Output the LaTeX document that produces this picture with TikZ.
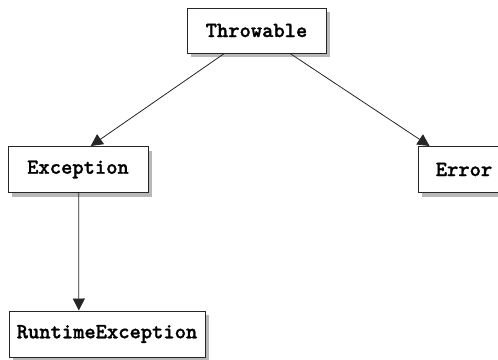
\documentclass[tikz,border=0pt]{standalone}
\usepackage{fontspec}
\newfontfamily\codefont{lmmonolt10-bold.otf}[FakeBold=1.2]
\usetikzlibrary{calc,arrows.meta,shadows}
\begin{document}
\begin{tikzpicture}[x=1pt,y=-1pt,
  cls/.style={draw=black!85, line width=1pt, fill=white,
    minimum height=46pt, inner sep=0pt,
    font=\codefont\fontsize{21.5}{21.5}\selectfont,
    drop shadow={shadow xshift=4pt, shadow yshift=-4pt, fill=black!28, opacity=1}},
  arr/.style={line width=0.8pt, draw=black!85, -{Triangle[length=12pt,width=12pt]}}
]
\clip (0,0) rectangle (498,359);
\useasboundingbox (0,0) rectangle (498,359);

% class boxes
\node[cls, minimum width=139pt, minimum height=45pt] (throwable) at (256.5,30.5) {Throwable};
\node[cls, minimum width=140pt] (exception) at (78,169.5) {Exception};
\node[cls, minimum width=92pt] (error) at (464,169.5) {Error};
\node[cls, minimum width=196pt] (rte) at (107,334) {RuntimeException};

% inheritance connectors
\draw[arr] ($(throwable.south west)!0.27!(throwable.south east)$) --
           ($(exception.north west)!0.59!(exception.north east)$);
\draw[arr] ($(throwable.south west)!0.74!(throwable.south east)$) --
           ($(error.north west)!0.13!(error.north east)$);
\draw[arr] ($(exception.south west)!0.505!(exception.south east)$) --
           ($(rte.north west)!0.357!(rte.north east)$);
\end{tikzpicture}
\end{document}
